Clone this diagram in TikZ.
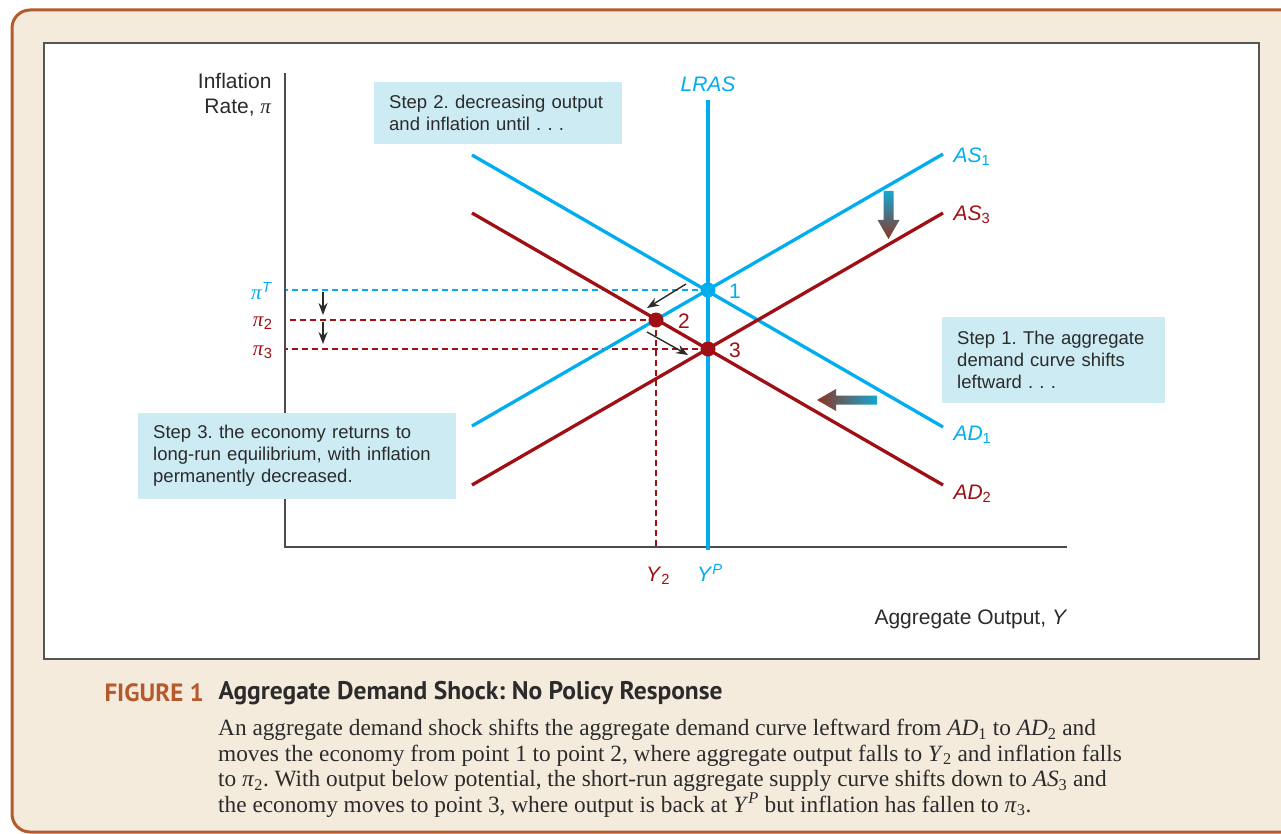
\documentclass[tikz,border=0pt]{standalone}
\usepackage{fontspec}
\setmainfont{Liberation Serif}
\setsansfont{Liberation Sans}
\newfontfamily\capfont{PT Sans}
\usetikzlibrary{arrows.meta}

\definecolor{lrcyan}{HTML}{00AEEF}
\definecolor{lrred}{HTML}{A00F14}
\definecolor{boxblue}{HTML}{CDEBF3}
\definecolor{paper}{HTML}{F4EBDD}
\definecolor{rust}{HTML}{B65A2D}
\definecolor{ink}{HTML}{2B2B2B}
\definecolor{shadecyan}{HTML}{14A8D2}
\definecolor{shadered}{HTML}{8E3322}

\newcommand{\pig}{\textrm{\textit{π}}}
\frenchspacing
\hyphenpenalty=10000

\begin{document}
\begin{tikzpicture}[x=1pt, y=-1pt,
	cy/.style = {lrcyan, line width=3.3pt},
	rd/.style = {lrred, line width=3.3pt},
	ax/.style = {ink!85, line width=1.6pt},
	dc/.style = {lrcyan, line width=1.2pt, dash pattern=on 6pt off 4pt},
	dr/.style = {lrred, line width=1.2pt, dash pattern=on 6pt off 4pt},
	dotc/.style = {circle, fill=lrcyan, inner sep=0pt, minimum size=15pt},
	dotr/.style = {circle, fill=lrred, inner sep=0pt, minimum size=15pt},
	stepbox/.style = {rectangle, fill=boxblue, text=ink, align=left, anchor=north west,
		inner xsep=15pt, inner ysep=0pt, font=\sffamily\fontsize{18.5}{22}\selectfont},
	lab/.style = {font=\sffamily\fontsize{21}{25}\selectfont},
	mv/.style = {->, >={Stealth[length=12pt, width=9pt]}, ink, line width=1.4pt}
	]

	\useasboundingbox (0,0) rectangle (1281,834);

	%Panel
	\begin{scope}
		\clip (0,0) rectangle (1281,834);
		\draw[fill=paper, draw=rust, line width=3pt, rounded corners=18pt] (12,10) rectangle (1330,832);
	\end{scope}
	\draw[fill=white, draw=ink!80, line width=1.3pt] (44,43) rectangle (1259,659);

	%Points
	\coordinate	(o)		at	(285,547);
	\coordinate	(ytop)	at	(285,73);
	\coordinate	(xend)	at	(1067,547);
	\coordinate	(e1)	at	(708,290);
	\coordinate	(e2)	at	(656,320);
	\coordinate	(e3)	at	(708,349);
	\coordinate	(lrtop)	at	(708,100);
	\coordinate	(lrbot)	at	(708,550);
	\coordinate	(as1a)	at	(472,426);
	\coordinate	(as1b)	at	(943,154);
	\coordinate	(ad1a)	at	(472,155);
	\coordinate	(ad1b)	at	(943,427);
	\coordinate	(ad2a)	at	(472,213);
	\coordinate	(ad2b)	at	(943,485);
	\coordinate	(as3a)	at	(472,485);
	\coordinate	(as3b)	at	(943,213);

	%Guides
	\draw[dc]	(e1)	--	(e1 -| o);
	\draw[dr]	(e2)	--	(e2 -| o);
	\draw[dr]	(e3)	--	(e3 -| o);
	\draw[dr]	(e2)	--	(e2 |- o);

	%Axes
	\draw[ax]	(ytop)	--	(o)	--	(xend);

	%Curves
	\draw[cy]	(lrtop)	--	(lrbot);
	\draw[cy]	(as1a)	--	(as1b);
	\draw[cy]	(ad1a)	--	(ad1b);
	\draw[rd]	(ad2a)	--	(ad2b);
	\draw[rd]	(as3a)	--	(as3b);

	%Equilibria
	\node[dotc]	(p1)	at	(e1)	{};
	\node[dotr]	(p2)	at	(e2)	{};
	\node[dotr]	(p3)	at	(e3)	{};
	\node[lab, lrcyan]	(n1)	at	(735,291)	{1};
	\node[lab, lrred]	(n2)	at	(684,321)	{2};
	\node[lab, lrred]	(n3)	at	(735,350)	{3};

	%Labels
	\node[lab, ink, align=right, anchor=east]	(ylab)	at	(275,95)	{Inflation\\Rate, \pig};
	\node[lab, ink, anchor=west]	(xlab)	at	(871,619)	{Aggregate Output, \textit{Y}};
	\node[lab, lrcyan]	(lras)	at	(708,84)	{\textit{LRAS}};
	\node[lab, lrcyan, anchor=west]	(as1)	at	(950,157)	{\textit{AS}\textsubscript{1}};
	\node[lab, lrred, anchor=west]	(as3)	at	(950,215)	{\textit{AS}\textsubscript{3}};
	\node[lab, lrcyan, anchor=west]	(ad1)	at	(950,435)	{\textit{AD}\textsubscript{1}};
	\node[lab, lrred, anchor=west]	(ad2)	at	(950,494)	{\textit{AD}\textsubscript{2}};
	\node[lab, lrcyan, anchor=east]	(piT)	at	(276,291)	{\pig\textsuperscript{\textit{T}}};
	\node[lab, lrred, anchor=east]	(pi2)	at	(276,323)	{\pig\textsubscript{2}};
	\node[lab, lrred, anchor=east]	(pi3)	at	(276,352)	{\pig\textsubscript{3}};
	\node[lab, lrred]	(y2)	at	(658,576)	{\textit{Y}\textsubscript{2}};
	\node[lab, lrcyan]	(yp)	at	(710,573)	{\textit{Y}\textsuperscript{\textit{P}}};

	%Boxes
	\node[stepbox, text width=218pt, minimum height=62pt]	(step2)	at	(374,82)
		{Step 2. decreasing output\\and inflation until . . .};
	\node[stepbox, text width=193pt, minimum height=86pt]	(step1)	at	(942,317)
		{Step 1. The aggregate\\demand curve shifts\\leftward . . .};
	\node[stepbox, text width=288pt, minimum height=86pt]	(step3)	at	(138,413)
		{Step 3. the economy returns to\\long-run equilibrium, with inflation\\permanently decreased.};

	%Moves
	\coordinate	(m1a)	at	(686,284);
	\coordinate	(m1b)	at	(647,308);
	\coordinate	(m2a)	at	(647,332);
	\coordinate	(m2b)	at	(688,355);
	\coordinate	(d1a)	at	(323,292);
	\coordinate	(d1b)	at	(323,315);
	\coordinate	(d2a)	at	(323,322);
	\coordinate	(d2b)	at	(323,344);
	\draw[mv]	(m1a)	--	(m1b);
	\draw[mv]	(m2a)	--	(m2b);
	\draw[mv]	(d1a)	--	(d1b);
	\draw[mv]	(d2a)	--	(d2b);

	%Shifts
	\shade[top color=shadecyan, bottom color=shadered]
		(883.5,191) -- (893.5,191) -- (893.5,220) -- (899.5,220) -- (888.5,239) -- (877.5,220) -- (883.5,220) -- cycle;
	\shade[left color=shadered, right color=shadecyan]
		(877,395.5) -- (877,404.5) -- (836,404.5) -- (836,411) -- (817,400) -- (836,389) -- (836,395.5) -- cycle;

	%Caption
	\node[anchor=west, text=rust, font=\capfont\bfseries\fontsize{25}{28}\selectfont]	(fig)	at	(101,693)	{FIGURE 1};
	\node[anchor=west, text=ink, font=\capfont\bfseries\fontsize{25.5}{28}\selectfont]	(title)	at	(215,693)	{Aggregate Demand Shock: No Policy Response};
	\node[anchor=north west, text=ink, align=left, inner sep=0pt, font=\fontsize{23.3}{25.5}\selectfont]	(body)	at	(218,719)
		{An aggregate demand shock shifts the aggregate demand curve leftward from \textit{AD}\textsubscript{1} to \textit{AD}\textsubscript{2} and\\
		moves the economy from point 1 to point 2, where aggregate output falls to \textit{Y}\textsubscript{2} and inflation falls\\
		to \textit{π}\textsubscript{2}. With output below potential, the short-run aggregate supply curve shifts down to \textit{AS}\textsubscript{3} and\\
		the economy moves to point 3, where output is back at \textit{Y}\textsuperscript{\textit{P}} but inflation has fallen to \textit{π}\textsubscript{3}.};
\end{tikzpicture}
\end{document}
